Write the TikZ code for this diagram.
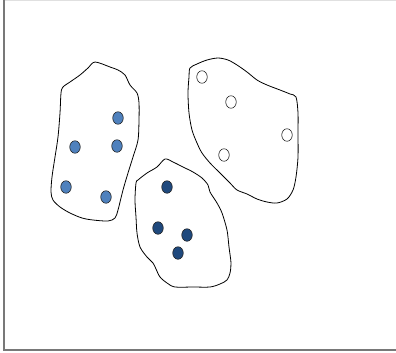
\documentclass[tikz,border=0pt]{standalone}
\usetikzlibrary{shapes.geometric}
\definecolor{lightdot}{RGB}{79,129,189}
\definecolor{darkdot}{RGB}{31,73,125}
\definecolor{framegray}{RGB}{120,120,120}

\begin{document}
\begin{tikzpicture}[
    x=1pt,
    y=-1pt,
    blob/.style={draw=black,line width=0.8pt},
    dot/.style={ellipse,draw=black!85,line width=0.6pt,minimum width=10.5pt,minimum height=12.5pt,inner sep=0pt}
]
  \useasboundingbox (0,0) rectangle (396,353);
  \draw[black!12,line width=0.8pt] (4,0.4) -- (396,0.4);
  \draw[framegray,line width=2.2pt] (4,0) -- (4,350) -- (396,350);

  % left cluster
  \draw[blob] plot[smooth cycle,tension=0.5] coordinates {
    (95,62) (110,67) (118,70) (125,75) (130,85) (137,93) (139,103) (139,120)
    (138,140) (133,157) (128,173) (123,190) (118,210) (115,218) (108,221)
    (93,220) (82,218) (70,213) (60,207) (53,200) (51,192) (52,177) (55,157)
    (58,137) (60,113) (61,93) (63,87) (70,82) (80,75) (88,68)};
  \foreach \name/\x/\y in {a1/118/118, a2/117/146, a3/75/147, a4/66/187, a5/106/197}
    \node[dot,fill=lightdot] (\name) at (\x,\y) {};

  % bottom cluster
  \draw[blob] plot[smooth cycle,tension=0.5] coordinates {
    (165,159) (173,162) (183,167) (193,172) (202,178) (208,185) (210,192)
    (217,203) (222,213) (227,230) (229,247) (231,263) (230,273) (227,280)
    (220,284) (210,287) (193,287) (175,287) (167,283) (160,277) (156,269)
    (153,263) (147,257) (140,247) (137,233) (136,217) (135,200) (136,183)
    (138,180) (147,173) (157,167)};
  \foreach \name/\x/\y in {b1/167/187, b2/158/228, b3/187/235, b4/178/253}
    \node[dot,fill=darkdot] (\name) at (\x,\y) {};

  % right cluster
  \draw[blob] plot[smooth cycle,tension=0.5] coordinates {
    (190,68) (197,64) (207,60) (218,58) (228,60) (237,65) (247,72) (257,80)
    (267,85) (280,90) (290,94) (296,97) (298,113) (298,133) (298,157)
    (296,177) (293,190) (287,199) (277,203) (267,202) (257,199) (247,194)
    (237,190) (230,183) (220,173) (210,163) (202,153) (197,143) (192,130)
    (189,113) (188,93) (189,77)};
  \foreach \name/\x/\y in {c1/202/77, c2/231/102, c3/287/135, c4/224/155}
    \node[dot,fill=white] (\name) at (\x,\y) {};
\end{tikzpicture}
\end{document}
